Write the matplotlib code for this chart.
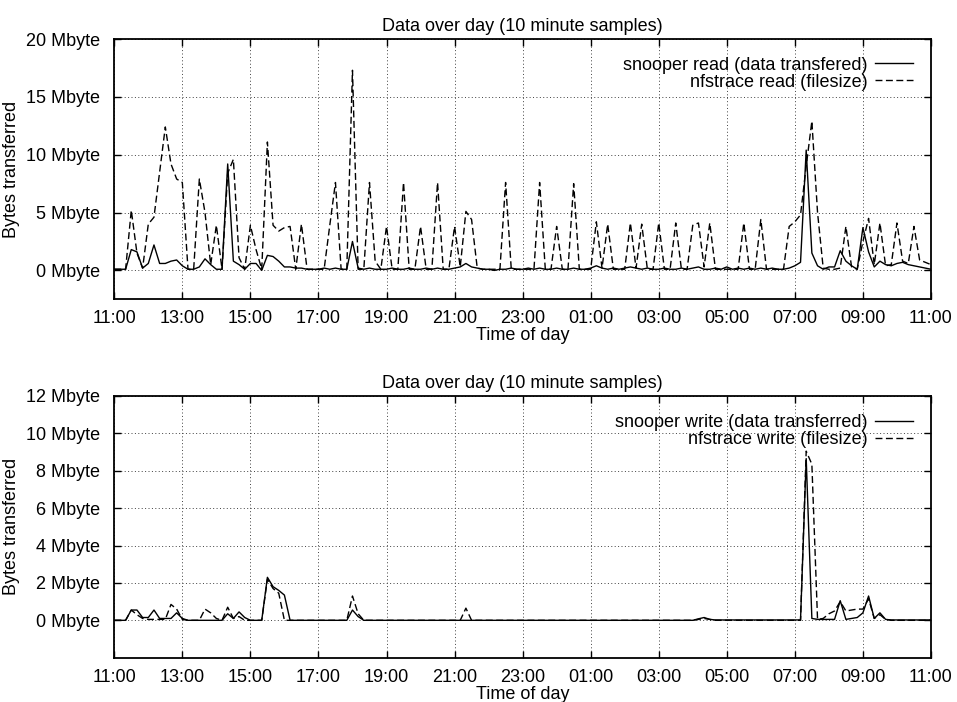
import matplotlib
matplotlib.use('Agg')
import matplotlib.pyplot as plt
import numpy as np

# 10 minute samples, 11:00 one day to 11:00 the next (145 points), Mbyte
snoop_read = [
    0.1, 0.1, 0.1, 1.8, 1.6, 0.2, 0.6, 2.2, 0.6, 0.6,
    0.8, 0.9, 0.4, 0.1, 0.1, 0.3, 1.0, 0.5, 0.1, 0.1,
    9.2, 0.8, 0.5, 0.1, 0.6, 0.6, 0.0, 1.3, 1.2, 0.8,
    0.3, 0.3, 0.2, 0.2, 0.1, 0.1, 0.1, 0.2, 0.1, 0.2,
    0.1, 0.1, 2.5, 0.2, 0.1, 0.2, 0.1, 0.1, 0.1, 0.2,
    0.1, 0.1, 0.2, 0.1, 0.1, 0.2, 0.1, 0.2, 0.1, 0.1,
    0.2, 0.3, 0.6, 0.3, 0.2, 0.1, 0.1, 0.0, 0.1, 0.1,
    0.2, 0.1, 0.1, 0.2, 0.1, 0.2, 0.1, 0.1, 0.2, 0.1,
    0.1, 0.2, 0.1, 0.1, 0.2, 0.4, 0.2, 0.1, 0.2, 0.1,
    0.2, 0.3, 0.2, 0.1, 0.2, 0.1, 0.1, 0.2, 0.1, 0.1,
    0.2, 0.1, 0.2, 0.3, 0.1, 0.1, 0.2, 0.1, 0.3, 0.1,
    0.2, 0.1, 0.2, 0.1, 0.2, 0.1, 0.2, 0.1, 0.1, 0.2,
    0.4, 0.7, 10.4, 1.5, 0.4, 0.1, 0.3, 0.3, 1.7, 0.8,
    0.4, 0.1, 3.7, 1.6, 0.3, 0.8, 0.5, 0.4, 0.6, 0.7,
    0.5, 0.4, 0.3, 0.2, 0.1,
]
nfs_read = [
    0.1, 0.1, 0.1, 5.2, 1.5, 0.2, 4.0, 4.6, 8.5, 12.4,
    9.2, 7.9, 7.6, 0.1, 0.1, 7.9, 5.0, 0.5, 3.9, 0.1,
    8.4, 9.6, 1.1, 0.1, 3.9, 1.8, 0.1, 11.1, 3.9, 3.4,
    3.7, 3.8, 0.1, 4.0, 0.1, 0.1, 0.1, 0.1, 3.9, 7.6,
    0.1, 0.1, 17.3, 0.1, 0.1, 7.6, 0.8, 0.1, 3.8, 0.1,
    0.1, 7.6, 0.1, 0.1, 3.8, 0.1, 0.1, 7.6, 0.1, 0.1,
    3.8, 0.3, 5.1, 4.4, 0.2, 0.1, 0.1, 0.1, 0.1, 7.6,
    0.1, 0.1, 0.1, 0.1, 0.1, 7.6, 0.1, 0.1, 3.8, 0.1,
    0.1, 7.5, 0.1, 0.1, 0.1, 4.2, 0.2, 4.0, 0.1, 0.1,
    0.1, 4.1, 0.2, 4.0, 0.1, 0.1, 4.1, 0.1, 0.1, 4.1,
    0.1, 0.1, 3.9, 4.1, 0.3, 4.1, 0.1, 0.1, 0.1, 0.1,
    0.1, 4.1, 0.1, 0.1, 4.4, 0.1, 0.1, 0.1, 0.1, 3.8,
    4.2, 4.8, 9.0, 12.9, 5.0, 0.2, 0.1, 0.1, 0.2, 3.8,
    0.3, 0.1, 2.5, 4.5, 0.5, 4.1, 0.4, 0.5, 4.1, 0.8,
    0.6, 3.8, 0.9, 0.7, 0.5,
]
snoop_write = [
    0.0, 0.0, 0.0, 0.55, 0.55, 0.15, 0.15, 0.55, 0.1, 0.1,
    0.1, 0.4, 0.1, 0.0, 0.0, 0.0, 0.0, 0.0, 0.0, 0.0,
    0.35, 0.1, 0.45, 0.15, 0.0, 0.0, 0.0, 2.3, 1.8, 1.6,
    1.35, 0.0, 0.0, 0.0, 0.0, 0.0, 0.0, 0.0, 0.0, 0.0,
    0.0, 0.0, 0.55, 0.2, 0.0, 0.0, 0.0, 0.0, 0.0, 0.0,
    0.0, 0.0, 0.0, 0.0, 0.0, 0.0, 0.0, 0.0, 0.0, 0.0,
    0.0, 0.0, 0.0, 0.0, 0.0, 0.0, 0.0, 0.0, 0.0, 0.0,
    0.0, 0.0, 0.0, 0.0, 0.0, 0.0, 0.0, 0.0, 0.0, 0.0,
    0.0, 0.0, 0.0, 0.0, 0.0, 0.0, 0.0, 0.0, 0.0, 0.0,
    0.0, 0.0, 0.0, 0.0, 0.0, 0.0, 0.0, 0.0, 0.0, 0.0,
    0.0, 0.0, 0.0, 0.08, 0.15, 0.05, 0.02, 0.02, 0.02, 0.02,
    0.02, 0.02, 0.02, 0.02, 0.02, 0.02, 0.02, 0.02, 0.02, 0.02,
    0.02, 0.02, 8.65, 0.1, 0.05, 0.05, 0.05, 0.05, 1.05, 0.05,
    0.1, 0.15, 0.4, 1.3, 0.1, 0.4, 0.05, 0.02, 0.02, 0.02,
    0.02, 0.02, 0.02, 0.02, 0.02,
]
nfs_write = [
    0.0, 0.0, 0.0, 0.55, 0.3, 0.1, 0.05, 0.05, 0.05, 0.05,
    0.85, 0.6, 0.05, 0.0, 0.0, 0.0, 0.6, 0.4, 0.1, 0.0,
    0.7, 0.1, 0.2, 0.0, 0.0, 0.0, 0.0, 2.2, 1.7, 1.45,
    0.0, 0.0, 0.0, 0.0, 0.0, 0.0, 0.0, 0.0, 0.0, 0.0,
    0.0, 0.0, 1.3, 0.35, 0.0, 0.0, 0.0, 0.0, 0.0, 0.0,
    0.0, 0.0, 0.0, 0.0, 0.0, 0.0, 0.0, 0.0, 0.0, 0.0,
    0.0, 0.0, 0.65, 0.0, 0.0, 0.0, 0.0, 0.0, 0.0, 0.0,
    0.0, 0.0, 0.0, 0.0, 0.0, 0.0, 0.0, 0.0, 0.0, 0.0,
    0.0, 0.0, 0.0, 0.0, 0.0, 0.0, 0.0, 0.0, 0.0, 0.0,
    0.0, 0.0, 0.0, 0.0, 0.0, 0.0, 0.0, 0.0, 0.0, 0.0,
    0.0, 0.0, 0.0, 0.05, 0.1, 0.05, 0.0, 0.0, 0.0, 0.0,
    0.0, 0.0, 0.0, 0.0, 0.0, 0.0, 0.0, 0.0, 0.0, 0.0,
    0.0, 0.0, 9.05, 8.35, 0.05, 0.1, 0.35, 0.5, 1.0, 0.5,
    0.55, 0.6, 0.6, 1.15, 0.1, 0.3, 0.05, 0.0, 0.0, 0.0,
    0.0, 0.0, 0.0, 0.0, 0.0,
]

time_labels = ['11:00', '13:00', '15:00', '17:00', '19:00', '21:00', '23:00',
               '01:00', '03:00', '05:00', '07:00', '09:00', '11:00']
read_ticks = [0, 5, 10, 15, 20]
write_ticks = [0, 2, 4, 6, 8, 10, 12]

plt.rcParams['font.family'] = ['Liberation Sans', 'DejaVu Sans']
plt.rcParams['font.size'] = 13

# sample position in hours after 11:00
hours = np.arange(len(snoop_read)) * 10 / 60.0
tick_hours = np.arange(len(time_labels)) * 2

fig = plt.figure(figsize=(9.57, 7.02), dpi=100)
ax1 = fig.add_axes([0.1194, 0.5736, 0.8534, 0.3708])
ax2 = fig.add_axes([0.1194, 0.0631, 0.8534, 0.3728])


def setup(ax, ticks, ymin, legend_y):
    ax.set_xlim(0, 24)
    ax.set_ylim(ymin, ticks[-1])
    ax.set_xticks(tick_hours)
    ax.set_xticklabels(time_labels)
    ax.set_yticks(ticks)
    ax.set_yticklabels(['%d Mbyte' % t for t in ticks])
    ax.grid(True, color='0.25', linestyle=(0, (1, 2.5)), linewidth=0.7)
    ax.tick_params(direction='in', length=5, width=1, top=True, right=True,
                   colors='black')
    ax.tick_params(axis='x', pad=8)
    ax.tick_params(axis='y', pad=10)
    for s in ax.spines.values():
        s.set_linewidth(1.3)
    ax.set_title('Data over day (10 minute samples)', fontsize=13, pad=6)
    ax.set_xlabel('Time of day', labelpad=0)
    ax.set_ylabel('Bytes transferred')
    ax.yaxis.set_label_coords(-0.1155, 0.5)
    ax.legend(loc='upper right', bbox_to_anchor=(0.978, legend_y),
              frameon=False, markerfirst=False, handlelength=2.1,
              handletextpad=0.4, labelspacing=0.0, borderpad=0,
              borderaxespad=0)


ax1.plot(hours, snoop_read, color='black', linewidth=1.0,
         label='snooper read (data transfered)')
ax1.plot(hours, nfs_read, color='black', linewidth=1.0, dashes=(5, 2.5),
         label='nfstrace read (filesize)')
setup(ax1, read_ticks, -2.5, 0.932)

ax2.plot(hours, snoop_write, color='black', linewidth=1.0,
         label='snooper write (data transferred)')
ax2.plot(hours, nfs_write, color='black', linewidth=1.0, dashes=(5, 2.5),
         label='nfstrace write (filesize)')
setup(ax2, write_ticks, -2, 0.931)

fig.savefig('out.png', dpi=100)
